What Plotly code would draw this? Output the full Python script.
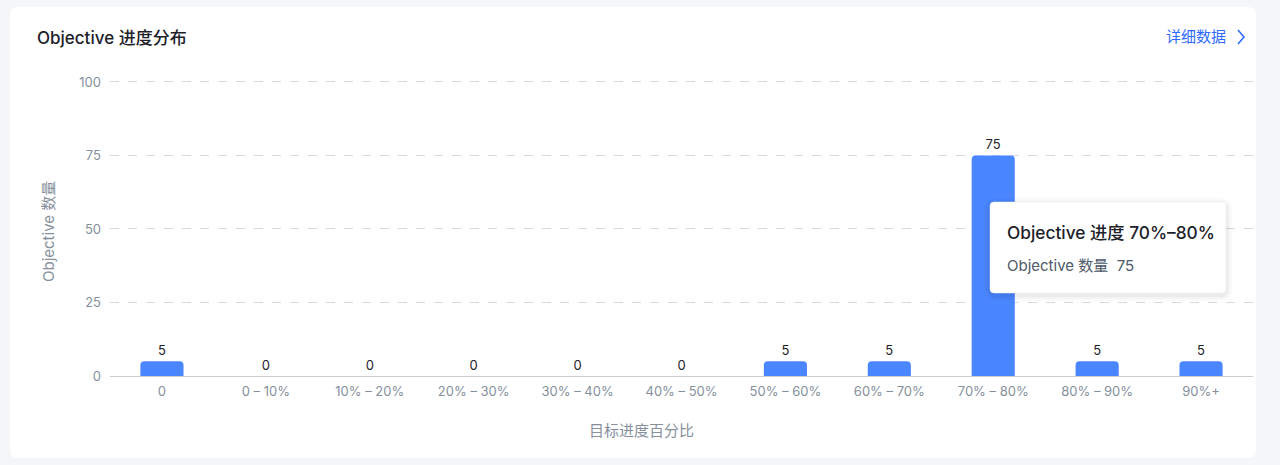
import plotly.graph_objects as go

categories = ["0", "0 – 10%", "10% – 20%", "20% – 30%", "30% – 40%", "40% – 50%",
              "50% – 60%", "60% – 70%", "70% – 80%", "80% – 90%", "90%+"]
counts = [5, 0, 0, 0, 0, 0, 5, 5, 75, 5, 5]
y_ticks = [0, 25, 50, 75, 100]

title_text = "Objective 进度分布"
link_text = "详细数据"
x_title = "目标进度百分比"
y_title = "Objective 数量"
tip_title = "Objective 进度 70%–80%"
tip_label = "Objective 数量"
tip_value = counts[8]

W, H = 1280, 465
L, R, T, B = 110, 1253, 79, 376  # plot area in pixels (y range 0..101)

def px(x):
    return (x - L) / (R - L)

def py(y):
    return (B - y) / (B - T)

FONT = "Inter, 'Noto Sans CJK SC', sans-serif"

fig = go.Figure(go.Bar(
    x=categories, y=counts,
    marker=dict(color="#4a86ff", line=dict(width=0)),
    text=counts, textposition="outside",
    textfont=dict(color="#1d2129", size=13, family=FONT),
    cliponaxis=False,
    hoverinfo="skip",
))

def rounded_rect(x0, y0, x1, y1, r):
    return (f"M {px(x0+r)} {py(y0)} L {px(x1-r)} {py(y0)} "
            f"Q {px(x1)} {py(y0)} {px(x1)} {py(y0+r)} "
            f"L {px(x1)} {py(y1-r)} Q {px(x1)} {py(y1)} {px(x1-r)} {py(y1)} "
            f"L {px(x0+r)} {py(y1)} Q {px(x0)} {py(y1)} {px(x0)} {py(y1-r)} "
            f"L {px(x0)} {py(y0+r)} Q {px(x0)} {py(y0)} {px(x0+r)} {py(y0)} Z")

shapes = [
    dict(type="path", xref="paper", yref="paper", path=rounded_rect(10, 7, 1256, 458, 8),
         fillcolor="white", line=dict(width=0), layer="below"),
]
# tooltip shadow layers
for i, a in enumerate([0.02, 0.025, 0.035]):
    d = 6 - 2 * i
    shapes.append(dict(type="path", xref="paper", yref="paper",
                       path=rounded_rect(990 - d, 202 - d + 2, 1226 + d, 293 + d + 2, 6 + d),
                       fillcolor=f"rgba(0,0,0,{a})", line=dict(width=0), layer="above"))
shapes.append(dict(type="path", xref="paper", yref="paper", path=rounded_rect(990, 202, 1226, 293, 4),
                   fillcolor="white", line=dict(width=0.5, color="#eceef2"), layer="above"))
# chevron of the link
shapes.append(dict(type="path", xref="paper", yref="paper",
                   path=f"M {px(1238)} {py(30)} L {px(1244)} {py(37)} L {px(1238)} {py(44)}",
                   line=dict(color="#2f6bff", width=1.6)))

annotations = [
    dict(text=title_text, x=px(35), y=py(38), xref="paper", yref="paper",
         xanchor="left", yanchor="middle", showarrow=False,
         font=dict(size=17, color="#1d2129", family=FONT, weight=500)),
    dict(text=link_text, x=px(1228), y=py(37), xref="paper", yref="paper",
         xanchor="right", yanchor="middle", showarrow=False,
         font=dict(size=15, color="#2f6bff", family=FONT)),
    dict(text=y_title, x=px(48), y=py(232), xref="paper", yref="paper",
         xanchor="center", yanchor="middle", textangle=-90, showarrow=False,
         font=dict(size=15, color="#86909c", family=FONT)),
    dict(text=x_title, x=px(641), y=py(430), xref="paper", yref="paper",
         xanchor="center", yanchor="middle", showarrow=False,
         font=dict(size=15, color="#86909c", family=FONT)),
    dict(text=tip_title, x=px(1005), y=py(232), xref="paper", yref="paper",
         xanchor="left", yanchor="middle", showarrow=False,
         font=dict(size=17.3, color="#1d2129", family=FONT, weight=500)),
    dict(text=f"{tip_label}&nbsp;&nbsp;{tip_value}", x=px(1005), y=py(265), xref="paper", yref="paper",
         xanchor="left", yanchor="middle", showarrow=False,
         font=dict(size=15, color="#4e5969", family=FONT)),
]

fig.update_layout(
    width=W, height=H,
    margin=dict(l=L, r=W - R, t=T, b=H - B, pad=0),
    paper_bgcolor="#f5f6f8",
    plot_bgcolor="rgba(0,0,0,0)",
    bargap=0.585,
    barcornerradius=4,
    showlegend=False,
    font=dict(family=FONT, color="#86909c", size=13),
    shapes=shapes,
    annotations=annotations,
    xaxis=dict(
        showgrid=False, showline=True, linecolor="#c9cdd4", linewidth=1,
        ticks="", ticklabelstandoff=3,
        tickfont=dict(size=13, color="#86909c", family=FONT),
        fixedrange=True,
    ),
    yaxis=dict(
        range=[0, 101], tickvals=y_ticks,
        showgrid=True, gridcolor="#d5d8de", griddash="dash", gridwidth=1,
        zeroline=True, zerolinecolor="#c9cdd4", zerolinewidth=1,
        showline=False, ticks="", ticklabelstandoff=8,
        tickfont=dict(size=13, color="#86909c", family=FONT),
        fixedrange=True,
    ),
)

fig.write_html("out.html", config={"displayModeBar": False},
               post_script="document.body.style.margin='0';")
